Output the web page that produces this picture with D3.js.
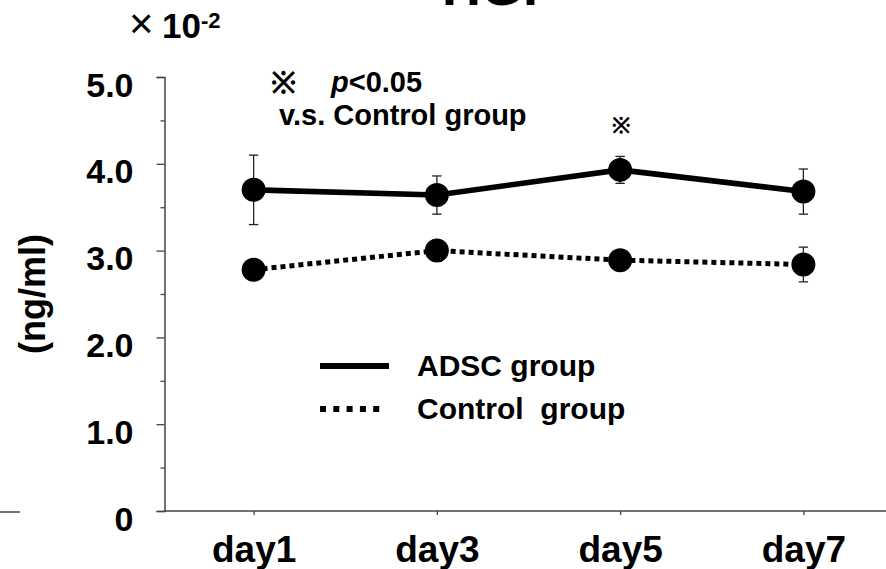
<!DOCTYPE html>
<html>
<head>
<meta charset="utf-8">
<script src="https://cdn.jsdelivr.net/npm/d3@7"></script>
<style>
  html, body { margin: 0; padding: 0; background: #fff; }
  svg { display: block; }
  text { font-family: "Liberation Sans", Arial, sans-serif; font-weight: bold; fill: #000; }
</style>
</head>
<body>
<svg id="chart"></svg>
<script>
// ---- data (units of 10^-2 ng/ml) ----
const days = ["day1", "day3", "day5", "day7"];
const adscMean = [3.70, 3.64, 3.93, 3.68];
const adscErr = [0.40, 0.22, 0.155, 0.26];
const controlMean = [2.78, 3.00, 2.89, 2.84];
const controlErr = [0.08, 0.12, 0.08, 0.20];
const yTicks = [0, 1, 2, 3, 4, 5];
const yTickLabels = ["0", "1.0", "2.0", "3.0", "4.0", "5.0"];
const yMinorTicks = [0.5, 1.5, 2.5, 3.5, 4.5];
const significantDays = ["day5"];

const width = 886;
const height = 569;

const svg = d3.select("#chart")
  .attr("width", width)
  .attr("height", height)
  .attr("viewBox", `0 0 ${width} ${height}`);

const x = d3.scalePoint().domain(days).range([162, 895]).padding(0.5);
const y = d3.scaleLinear().domain([0, 5]).range([511, 77]);
const axisX = 164.5;
const axisColor = "#444";
const markFont = "'Noto Sans CJK JP', 'DejaVu Sans', sans-serif";

// title, mostly cut off at the top edge
svg.append("text")
  .attr("x", 499).attr("y", 5)
  .attr("text-anchor", "middle")
  .attr("font-size", "54px")
  .text("HGF");

// exponent label
const expo = svg.append("text").attr("y", 38).attr("font-size", "35px");
expo.append("tspan").attr("x", 129).attr("font-size", "42px").attr("font-weight", "normal").text("×");
expo.append("tspan").attr("x", 162).text("10");
expo.append("tspan").attr("x", 201).attr("font-size", "22px").attr("dy", -10).text("-2");

// stray rule bottom-left
svg.append("line")
  .attr("x1", 0).attr("x2", 20).attr("y1", 512).attr("y2", 512)
  .attr("stroke", axisColor).attr("stroke-width", 1.5);

// ---- y axis ----
const gy = svg.append("g").attr("transform", `translate(${axisX},0)`);
gy.call(d3.axisLeft(y).tickValues(yTicks).tickSize(8).tickPadding(23)
  .tickFormat((d, i) => yTickLabels[i]));
gy.append("g").call(d3.axisLeft(y).tickValues(yMinorTicks).tickSize(4).tickFormat(""))
  .select(".domain").remove();
gy.selectAll(".domain").attr("stroke", axisColor).attr("stroke-width", 1.5);
gy.selectAll(".tick line").attr("stroke", axisColor).attr("stroke-width", 1.3);
gy.selectAll(".tick text")
  .attr("font-size", "34px").attr("font-family", null)
  .attr("dy", "0.56em").attr("fill", "#000");

// y title
svg.append("text")
  .attr("transform", "translate(45,294) rotate(-90)")
  .attr("text-anchor", "middle")
  .attr("font-size", "36px")
  .text("(ng/ml)");

// ---- x axis ----
const gx = svg.append("g").attr("transform", `translate(0,${y(0)})`);
gx.call(d3.axisBottom(x).tickSize(4).tickSizeOuter(0));
gx.select(".domain").remove();
gx.append("line")
  .attr("x1", axisX).attr("x2", width).attr("y1", 0).attr("y2", 0)
  .attr("stroke", axisColor).attr("stroke-width", 1.5);
gx.selectAll(".tick line").attr("stroke", axisColor).attr("stroke-width", 1.3);
gx.selectAll(".tick text")
  .attr("font-size", "37px").attr("font-family", null)
  .attr("y", 51).attr("dy", 0).attr("fill", "#000");

// ---- series ----
const series = [
  { name: "ADSC group", mean: adscMean, err: adscErr, dash: null, legendDash: null, legendLen: 69 },
  { name: "Control  group", mean: controlMean, err: controlErr, dash: "5,4", legendDash: "6,7.3", legendLen: 60 }
];

const line = d3.line().x(d => x(d.day)).y(d => y(d.v));

series.forEach(s => {
  const pts = days.map((day, i) => ({ day, v: s.mean[i], e: s.err[i] }));
  const g = svg.append("g");

  // error bars
  const eb = g.selectAll(".eb").data(pts).join("g")
    .attr("stroke", "#222").attr("stroke-width", 1.3);
  eb.append("line")
    .attr("x1", d => x(d.day)).attr("x2", d => x(d.day))
    .attr("y1", d => y(d.v + d.e)).attr("y2", d => y(d.v - d.e));
  eb.append("line")
    .attr("x1", d => x(d.day) - 4.7).attr("x2", d => x(d.day) + 4.7)
    .attr("y1", d => y(d.v + d.e)).attr("y2", d => y(d.v + d.e));
  eb.append("line")
    .attr("x1", d => x(d.day) - 4.7).attr("x2", d => x(d.day) + 4.7)
    .attr("y1", d => y(d.v - d.e)).attr("y2", d => y(d.v - d.e));

  g.append("path")
    .datum(pts)
    .attr("d", line)
    .attr("fill", "none")
    .attr("stroke", "#000")
    .attr("stroke-width", s.dash ? 5 : 5.6)
    .attr("stroke-dasharray", s.dash);

  g.selectAll("circle").data(pts).join("circle")
    .attr("cx", d => x(d.day)).attr("cy", d => y(d.v))
    .attr("r", 12).attr("fill", "#000");
});

// significance marks
svg.selectAll(".sig").data(significantDays).join("text")
  .attr("class", "sig")
  .attr("x", d => x(d) + 1)
  .attr("y", d => y(adscMean[days.indexOf(d)]) - 37)
  .attr("text-anchor", "middle")
  .attr("font-family", markFont)
  .attr("font-size", "22px")
  .text("※");

// annotation top-left
svg.append("text")
  .attr("x", 271).attr("y", 93)
  .attr("font-family", markFont)
  .attr("font-size", "30px")
  .text("※");
const pt = svg.append("text").attr("x", 331).attr("y", 92).attr("font-size", "29px");
pt.append("tspan").attr("font-style", "italic").text("p");
pt.append("tspan").text("<0.05");
svg.append("text")
  .attr("x", 279).attr("y", 125)
  .attr("font-size", "29px")
  .text("v.s. Control group");

// ---- legend ----
const legend = svg.append("g");
const legendRows = legend.selectAll("g").data(series).join("g")
  .attr("transform", (d, i) => `translate(320, ${366 + i * 43})`);
legendRows.append("line")
  .attr("x1", 0).attr("x2", d => d.legendLen)
  .attr("stroke", "#000")
  .attr("stroke-width", 6)
  .attr("stroke-dasharray", d => d.legendDash);
legendRows.append("text")
  .attr("x", 97).attr("y", 10)
  .attr("font-size", "30px")
  .style("white-space", "pre")
  .text(d => d.name);
</script>
</body>
</html>
